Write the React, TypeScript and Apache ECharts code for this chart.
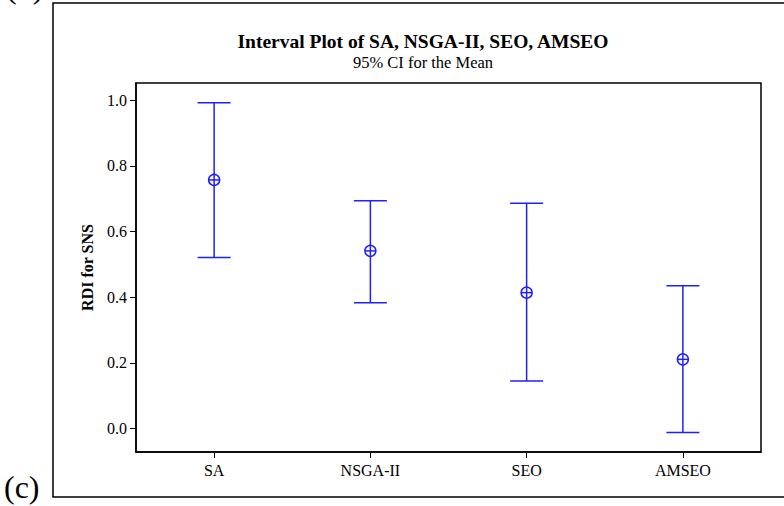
import React, { useEffect, useRef } from "react";
import * as echarts from "echarts";

const categories = ["SA", "NSGA-II", "SEO", "AMSEO"];
const means = [0.757, 0.541, 0.414, 0.211];
const lowerCI = [0.521, 0.383, 0.145, -0.012];
const upperCI = [0.992, 0.694, 0.686, 0.435];
const yTickValues = [0, 0.2, 0.4, 0.6, 0.8, 1.0];

const titleText = "Interval Plot of SA, NSGA-II, SEO, AMSEO";
const subtitleText = "95% CI for the Mean";
const yAxisName = "RDI for SNS";

const FONT = "'Liberation Serif', 'Times New Roman', serif";
const BLUE = "#1f1fff";

export default function App() {
  const ref = useRef<HTMLDivElement>(null);

  useEffect(() => {
    document.body.style.margin = "0";
    if (!ref.current) return;
    const chart = echarts.init(ref.current, null, { renderer: "svg" });

    const data = categories.map((c, i) => [i, means[i], lowerCI[i], upperCI[i]]);

    const option: any = {
      animation: false,
      backgroundColor: "#ffffff",
      grid: {
        left: 136,
        top: 83,
        right: 23,
        bottom: 54,
        show: true,
        borderColor: "#000",
        borderWidth: 1.5,
        backgroundColor: "transparent",
      },
      xAxis: {
        type: "category",
        data: categories,
        boundaryGap: true,
        axisLine: { show: true, onZero: false, lineStyle: { color: "#000", width: 1.5 } },
        axisTick: { show: true, alignWithLabel: true, length: 6, lineStyle: { color: "#000", width: 1 } },
        axisLabel: { fontFamily: FONT, fontSize: 16, color: "#000", margin: 10 },
        splitLine: { show: false },
      },
      yAxis: {
        type: "value",
        min: -0.071,
        max: 1.052,
        name: yAxisName,
        nameLocation: "middle",
        nameGap: 41,
        nameTextStyle: { fontFamily: FONT, fontSize: 16, fontWeight: "bold", color: "#000" },
        axisLine: { show: true, lineStyle: { color: "#000", width: 1.5 } },
        axisTick: { show: true, length: 6, lineStyle: { color: "#000", width: 1 }, customValues: yTickValues },
        axisLabel: {
          fontFamily: FONT,
          fontSize: 16,
          color: "#000",
          margin: 9,
          customValues: yTickValues,
          formatter: (v: number) => v.toFixed(1),
        },
        splitLine: { show: false },
      },
      graphic: [
        {
          type: "rect",
          shape: { x: 53, y: 3, width: 800, height: 494 },
          style: { fill: "none", stroke: "#000", lineWidth: 1.5 },
          silent: true,
        },
        {
          type: "text",
          x: 423,
          y: 41,
          style: {
            text: titleText,
            font: `bold 19.5px ${FONT}`,
            fill: "#000",
            textAlign: "center",
            textVerticalAlign: "middle",
          },
        },
        {
          type: "text",
          x: 423,
          y: 62,
          style: {
            text: subtitleText,
            font: `16.5px ${FONT}`,
            fill: "#000",
            textAlign: "center",
            textVerticalAlign: "middle",
          },
        },
        {
          type: "text",
          x: 4,
          y: 487,
          style: {
            text: "(c)",
            font: `32px ${FONT}`,
            fill: "#000",
            textAlign: "left",
            textVerticalAlign: "middle",
          },
        },
        {
          type: "text",
          x: 6,
          y: -13,
          style: {
            text: "(b)",
            font: `32px ${FONT}`,
            fill: "#000",
            textAlign: "left",
            textVerticalAlign: "middle",
          },
        },
      ],
      series: [
        {
          type: "custom",
          data: data,
          encode: { x: 0, y: [1, 2, 3] },
          renderItem: (params: any, api: any) => {
            const idx = api.value(0);
            const pMean = api.coord([idx, api.value(1)]);
            const pLow = api.coord([idx, api.value(2)]);
            const pHigh = api.coord([idx, api.value(3)]);
            const cx = pMean[0];
            const capHalf = 16.5;
            const r = 5.5;
            const lineStyle = { stroke: BLUE, lineWidth: 1.5, fill: "none" };
            return {
              type: "group",
              children: [
                { type: "line", shape: { x1: cx, y1: pHigh[1], x2: cx, y2: pLow[1] }, style: lineStyle },
                { type: "line", shape: { x1: cx - capHalf, y1: pHigh[1], x2: cx + capHalf, y2: pHigh[1] }, style: lineStyle },
                { type: "line", shape: { x1: cx - capHalf, y1: pLow[1], x2: cx + capHalf, y2: pLow[1] }, style: lineStyle },
                { type: "circle", shape: { cx: cx, cy: pMean[1], r: r }, style: { stroke: BLUE, lineWidth: 1.5, fill: "none" } },
                { type: "line", shape: { x1: cx - r, y1: pMean[1], x2: cx + r, y2: pMean[1] }, style: lineStyle },
              ],
            };
          },
        },
      ],
    };

    chart.setOption(option);
    return () => {
      chart.dispose();
    };
  }, []);

  return <div ref={ref} style={{ width: 784, height: 506, background: "#fff" }} />;
}
